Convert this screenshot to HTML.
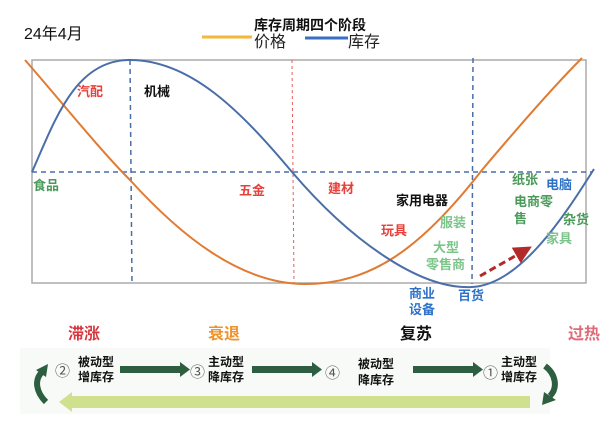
<!DOCTYPE html>
<html><head><meta charset="utf-8"><style>
body{margin:0;width:610px;height:416px;background:#fff;overflow:hidden;font-family:"Liberation Sans","Noto Sans CJK SC",sans-serif;}
svg text{font-family:"Liberation Sans","Noto Sans CJK SC",sans-serif;}
</style></head><body>
<svg width="610" height="416" viewBox="0 0 610 416" xmlns="http://www.w3.org/2000/svg">
<defs>
<marker id="ar" markerWidth="6" markerHeight="6" refX="3" refY="3" orient="auto"><path d="M0,0 L6,3 L0,6 z" fill="#b22a2a"/></marker>
</defs>
<text x="24" y="39" font-size="16" fill="#111">24年4月</text>
<text x="310" y="30" font-size="14" font-weight="bold" text-anchor="middle" fill="#111">库存周期四个阶段</text>
<line x1="202" y1="37" x2="252" y2="37" stroke="#f4b73a" stroke-width="3"/>
<text x="254" y="47" font-size="16" fill="#222">价格</text>
<line x1="305" y1="38" x2="348" y2="38" stroke="#3a6fc4" stroke-width="3"/>
<text x="348" y="47" font-size="16" fill="#222">库存</text>
<rect x="32" y="60" width="554" height="223" fill="none" stroke="#aaa" stroke-width="1.5"/>
<line x1="32" y1="172" x2="592" y2="172" stroke="#4a6ea8" stroke-width="1.5" stroke-dasharray="5,4"/>
<line x1="130" y1="60" x2="132" y2="284" stroke="#4a6ea8" stroke-width="1.5" stroke-dasharray="5,4"/>
<line x1="292" y1="60" x2="294" y2="284" stroke="#e06060" stroke-width="1" stroke-dasharray="3,3"/>
<line x1="473" y1="58" x2="472" y2="284" stroke="#4a6ea8" stroke-width="1.5" stroke-dasharray="5,4"/>
<path d="M25,60 C60,100 100,150 130,180 C180,235 240,284 305,284 C370,284 420,250 482,170 C520,125 555,85 582,58" fill="none" stroke="#e07b33" stroke-width="2"/>
<path d="M32,172 C55,120 75,60 130,60 C190,60 240,110 292,172 C350,240 420,290 472,287 C520,285 565,215 594,169" fill="none" stroke="#4a6ea8" stroke-width="2"/>
<g font-size="13" font-weight="bold">
<text x="77" y="96" fill="#e8403a">汽配</text>
<text x="144" y="96" fill="#111">机械</text>
<text x="33" y="190" fill="#4a9a5a">食品</text>
<text x="239" y="195" fill="#e8403a">五金</text>
<text x="328" y="193" fill="#e8403a">建材</text>
<text x="396" y="205" fill="#111">家用电器</text>
<text x="381" y="235" fill="#e8403a">玩具</text>
<text x="440" y="227" fill="#7cc48a">服装</text>
<text x="433" y="252" fill="#7cc48a">大型</text>
<text x="426" y="269" fill="#7cc48a">零售商</text>
<text x="409" y="298" fill="#2e72c8">商业</text>
<text x="409" y="314" fill="#2e72c8">设备</text>
<text x="458" y="300" fill="#2e72c8">百货</text>
<text x="512" y="184" fill="#4a9a5a">纸张</text>
<text x="546" y="189" fill="#2e72c8">电脑</text>
<text x="514" y="206" fill="#4a9a5a">电商零</text>
<text x="514" y="223" fill="#4a9a5a">售</text>
<text x="563" y="224" fill="#4a9a5a">杂货</text>
<text x="546" y="243" fill="#7cc48a">家具</text>
</g>
<line x1="480" y1="276" x2="524" y2="251" stroke="#b22a2a" stroke-width="3" stroke-dasharray="7,4" marker-end="url(#ar)"/>
<g font-size="16" font-weight="bold">
<text x="68" y="339" fill="#d8363f">滞涨</text>
<text x="208" y="339" fill="#f0922b">衰退</text>
<text x="400" y="339" fill="#111">复苏</text>
<text x="568" y="339" fill="#e06a78">过热</text>
</g>
<rect x="20" y="348" width="530" height="66" fill="#f8faf8"/>
<polygon points="530,396 72,396 72,392 59,402 72,412 72,408 530,408" fill="#cfe08f"/>
<g fill="#2c5e3f">
<rect x="120" y="366" width="60" height="7"/><polygon points="180,362 190,369.5 180,377"/>
<rect x="252" y="366" width="60" height="7"/><polygon points="312,362 322,369.5 312,377"/>
<rect x="413" y="366" width="60" height="7"/><polygon points="473,362 483,369.5 473,377"/>
</g>
<path d="M46,402 C36,392 34,380 42,372" fill="none" stroke="#2c5e3f" stroke-width="6"/>
<polygon points="36,370 48,364 46,377" fill="#2c5e3f"/>
<path d="M545,366 C556,374 558,388 550,396" fill="none" stroke="#2c5e3f" stroke-width="6"/>
<polygon points="544,392 556,400 542,405" fill="#2c5e3f"/>
<g font-size="12" fill="#111" font-weight="bold">
<text x="78" y="366">被动型</text><text x="78" y="381">增库存</text>
<text x="208" y="366">主动型</text><text x="208" y="381">降库存</text>
<text x="358" y="368">被动型</text><text x="358" y="384">降库存</text>
<text x="501" y="366">主动型</text><text x="501" y="381">增库存</text>
</g>
<g font-size="15" fill="#555">
<text x="55" y="376">②</text><text x="190" y="377">③</text><text x="325" y="378">④</text><text x="483" y="378">①</text>
</g>
</svg>
</body></html>
